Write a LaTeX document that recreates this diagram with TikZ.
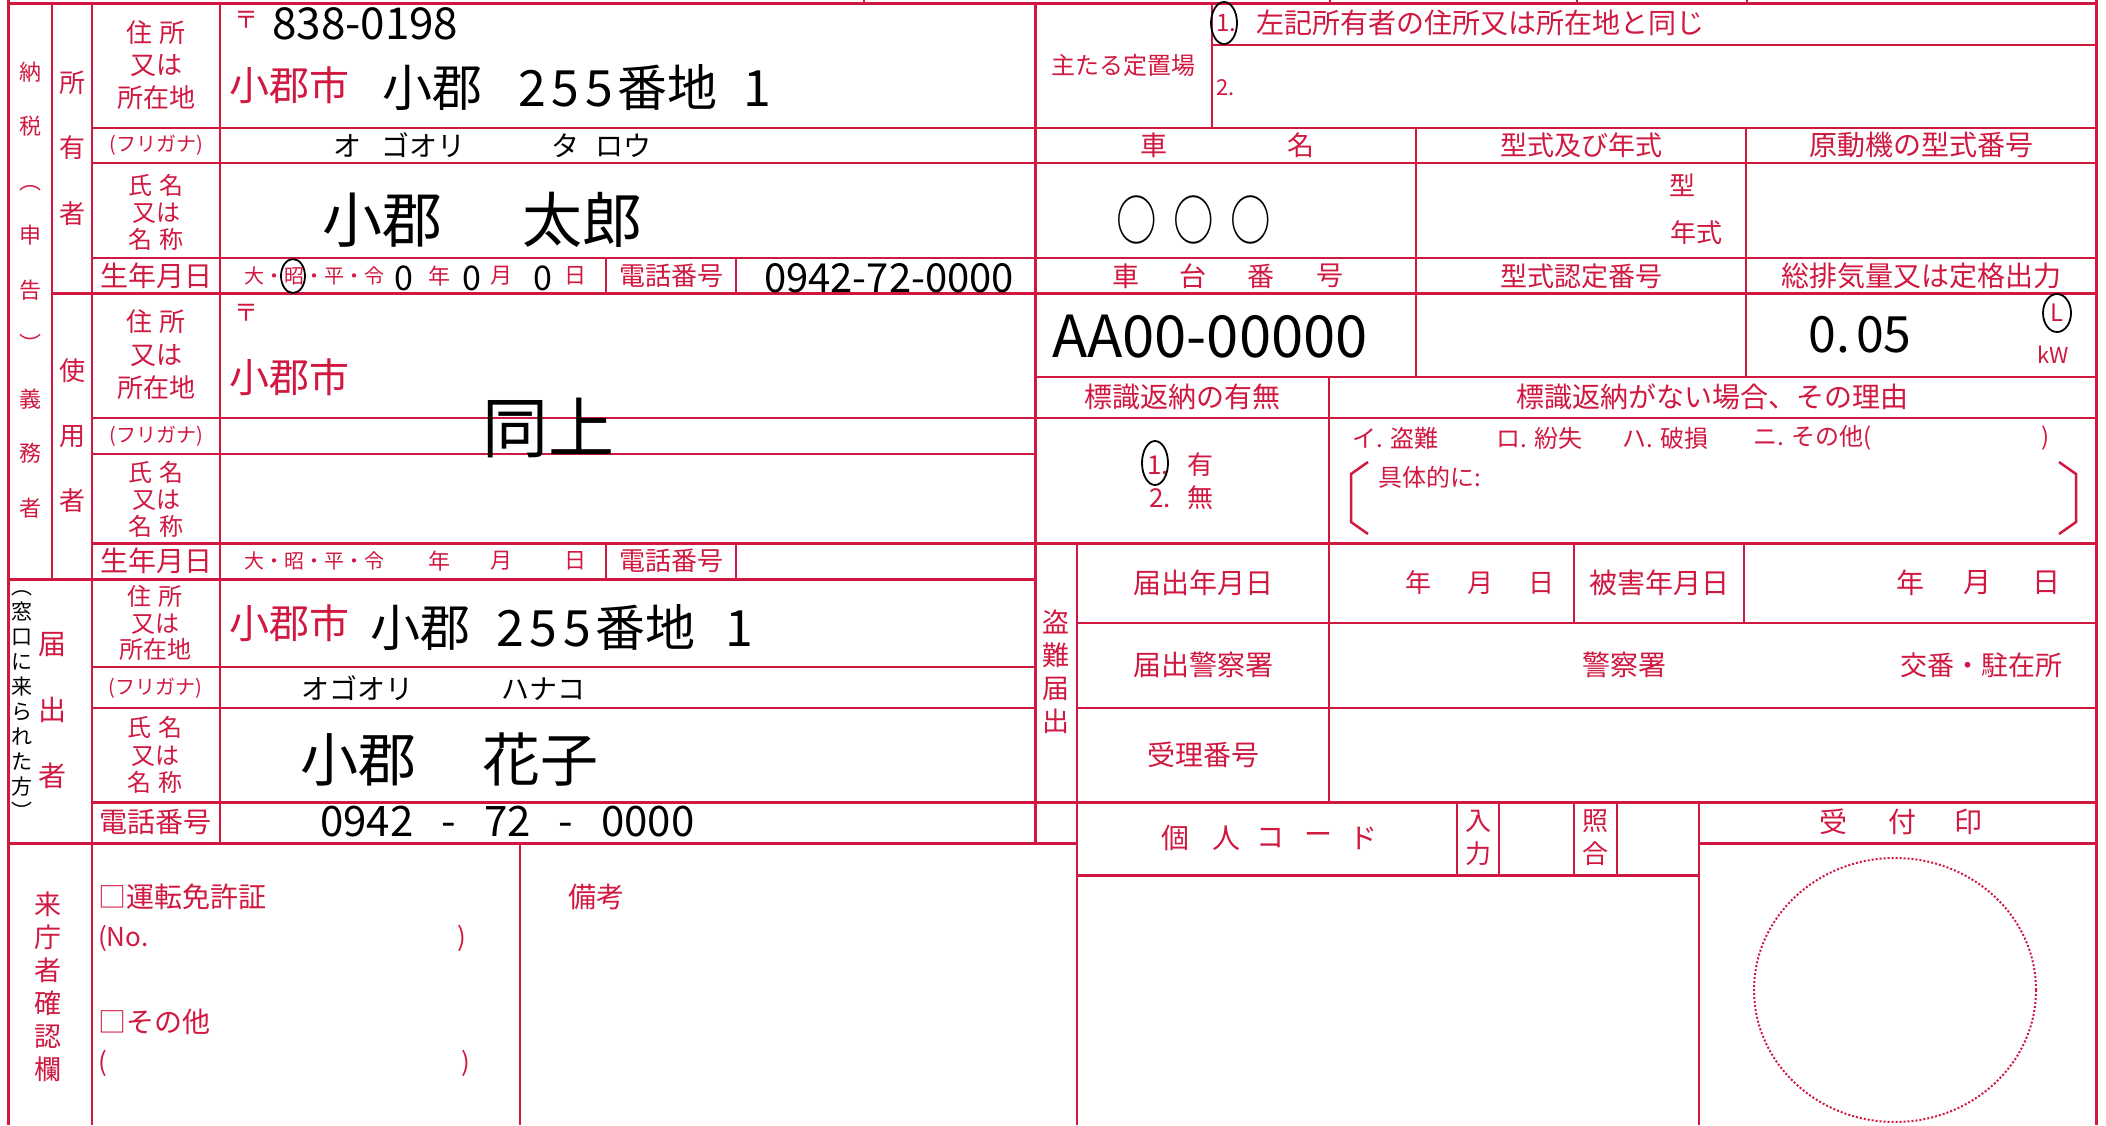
\documentclass[tikz,border=0pt]{standalone}
\usepackage{fontspec}
\newfontfamily\jp{Noto Sans CJK JP}
\definecolor{fr}{RGB}{208,24,64}
\newcommand\fsz[2]{\fontsize{#1}{#2}\selectfont}
\begin{document}
\begin{tikzpicture}[x=1pt,y=-1pt,
 ln/.style={draw=fr,line width=2pt},
 tk/.style={draw=fr,line width=3pt},
 rt/.style={text=fr,inner sep=0pt,font=\jp\fsz{#1}{#1}},
 rv/.style args={#1/#2}{text=fr,inner sep=0pt,align=center,font=\jp\fsz{#1}{#2}},
 hw/.style={text=black,inner sep=0pt,font=\jp\fsz{#1}{#1}},
 hv/.style args={#1/#2}{text=black,inner sep=0pt,align=center,font=\jp\fsz{#1}{#2}},
 mk/.style={draw=black,line width=1.8pt}]
\useasboundingbox (0,0) rectangle (2106,1125);
\fill[white] (0,0) rectangle (2106,1125);
% ---------- frame lines
\draw[tk] (8,0) -- (8,1125);
\draw[tk] (2096,0) -- (2096,1125);
\draw[tk] (8,3) -- (2096,3);
\foreach \x in {864,1330,1577,1747} \draw[ln] (\x,0) -- (\x,4);
% verticals
\draw[ln] (52,3) -- (52,579);
\draw[ln] (92,3) -- (92,1125);
\draw[ln] (220,3) -- (220,843);
\draw[ln] (606,258) -- (606,293);
\draw[ln] (606,543) -- (606,579);
\draw[ln] (736,258) -- (736,293);
\draw[ln] (736,543) -- (736,579);
\draw[tk] (1035,3) -- (1035,843);
\draw[ln] (1212,3) -- (1212,128);
\draw[ln] (1416,128) -- (1416,377);
\draw[ln] (1746,128) -- (1746,377);
\draw[ln] (1329,377) -- (1329,802);
\draw[ln] (1077,543) -- (1077,1125);
\draw[ln] (1574,543) -- (1574,623);
\draw[ln] (1744,543) -- (1744,623);
\draw[ln] (1457,802) -- (1457,875);
\draw[ln] (1499,802) -- (1499,875);
\draw[ln] (1574,802) -- (1574,875);
\draw[ln] (1617,802) -- (1617,875);
\draw[ln] (1699,802) -- (1699,1125);
\draw[ln] (520,843) -- (520,1125);
% horizontals
\draw[ln] (1212,45) -- (2096,45);
\draw[ln] (92,128) -- (2096,128);
\draw[ln] (92,163) -- (2096,163);
\draw[ln] (92,258) -- (2096,258);
\draw[tk] (52,293) -- (2096,293);
\draw[ln] (1035,377) -- (2096,377);
\draw[ln] (92,418) -- (2096,418);
\draw[ln] (92,454) -- (1035,454);
\draw[tk] (92,543) -- (2096,543);
\draw[tk] (8,579) -- (1035,579);
\draw[ln] (1077,623) -- (2096,623);
\draw[ln] (92,667) -- (1035,667);
\draw[ln] (92,708) -- (1035,708);
\draw[ln] (1077,708) -- (2096,708);
\draw[tk] (92,802) -- (2096,802);
\draw[tk] (8,843) -- (1077,843);
\draw[tk] (1699,843) -- (2096,843);
\draw[tk] (1077,875) -- (1699,875);
% ---------- left vertical headers
\node[rv=22/54.5] (nozei) at (30,290) {納\\税\\︵\\申\\告\\︶\\義\\務\\者};
\node[rv=26/65.5] (shoyu) at (72,148) {所\\有\\者};
\node[rv=26/65] (shiyo) at (72,436) {使\\用\\者};
\node[rv=28/66] (todoke) at (52,711) {届\\出\\者};
\node[hv=21/25] (madoguchi) at (22,705) {︵\\窓\\口\\に\\来\\ら\\れ\\た\\方\\︶};
\node[rv=27/33] (raicho) at (48,987) {来\\庁\\者\\確\\認\\欄};
% ---------- owner
\node[rv=26/32.5] (o-addr-l) at (156,65) {住\hspace{8pt}所\\又は\\所在地};
\node[rt=24,anchor=west] (o-zip) at (234,20) {〒};
\node[hw=44,anchor=west] (o-zipv) at (272,24) {838-0198};
\node[rt=40,anchor=west] (o-city) at (229,85) {小郡市};
\node[hw=50,anchor=west] (o-addr) at (382,88) {小郡\hspace{36pt}2\hspace{6pt}5\hspace{6pt}5\hspace{4pt}番地\hspace{26pt}1};
\node[rt=20] (o-kana-l) at (156,145) {(フリガナ)};
\node[hw=28,anchor=west] (o-kana) at (333,145) {オ\hspace{20pt}ゴオリ\hspace{86pt}タ\hspace{16pt}ロウ};
\node[rv=24/27] (o-name-l) at (156,212) {氏\hspace{8pt}名\\又は\\名\hspace{8pt}称};
\node[hw=60,anchor=west] (o-name) at (322,220) {小郡\hspace{80pt}太郎};
\node[rt=28] (o-birth-l) at (156,276) {生年月日};
\node[rt=20,anchor=west] (o-era) at (244,276) {大・昭・平・令};
\draw[mk] (293,276) ellipse [x radius=12, y radius=17];
\node[hw=34] (o-y) at (404,278) {0};
\node[rt=22] (o-yl) at (439,276) {年};
\node[hw=34] (o-m) at (472,278) {0};
\node[rt=22] (o-ml) at (501,276) {月};
\node[hw=34] (o-d) at (543,278) {0};
\node[rt=22] (o-dl) at (575,276) {日};
\node[rt=26] (o-tel-l) at (671,276) {電話番号};
\node[hw=40] (o-tel) at (889,278) {0942-72-0000};
% ---------- user
\node[rv=26/33] (u-addr-l) at (156,355) {住\hspace{8pt}所\\又は\\所在地};
\node[rt=24,anchor=west] (u-zip) at (234,313) {〒};
\node[rt=40,anchor=west] (u-city) at (229,377) {小郡市};
\node[hw=66] (u-same) at (548,428) {同上};
\node[rt=20] (u-kana-l) at (156,436) {(フリガナ)};
\node[rv=24/27] (u-name-l) at (156,499) {氏\hspace{8pt}名\\又は\\名\hspace{8pt}称};
\node[rt=28] (u-birth-l) at (156,561) {生年月日};
\node[rt=20,anchor=west] (u-era) at (244,561) {大・昭・平・令};
\node[rt=22] (u-yl) at (439,561) {年};
\node[rt=22] (u-ml) at (501,561) {月};
\node[rt=22] (u-dl) at (575,561) {日};
\node[rt=26] (u-tel-l) at (671,561) {電話番号};
% ---------- applicant
\node[rv=24/26.5] (a-addr-l) at (155,623) {住\hspace{8pt}所\\又は\\所在地};
\node[rt=40,anchor=west] (a-city) at (229,623) {小郡市};
\node[hw=50,anchor=west] (a-addr) at (370,628) {小郡\hspace{26pt}2\hspace{6pt}5\hspace{6pt}5\hspace{4pt}番地\hspace{30pt}1};
\node[rt=20] (a-kana-l) at (155,688) {(フリガナ)};
\node[hw=28,anchor=west] (a-kana) at (301,688) {オゴオリ\hspace{88pt}ハナコ};
\node[rv=24/27.5] (a-name-l) at (155,755) {氏\hspace{8pt}名\\又は\\名\hspace{8pt}称};
\node[hw=58,anchor=west] (a-name) at (300,760) {小郡\hspace{66pt}花子};
\node[rt=28] (a-tel-l) at (155,822) {電話番号};
\node[hw=42,anchor=west] (a-tel) at (320,822) {0942\hspace{28pt}-\hspace{28pt}72\hspace{28pt}-\hspace{28pt}0000};
% ---------- visitor check
\node[rt=28,anchor=west] (v-lic) at (98,897) {□運転免許証};
\node[rt=26,anchor=west] (v-no) at (98,938) {(No.};
\node[rt=26] (v-no-r) at (462,938) {)};
\node[rt=28,anchor=west] (v-oth) at (98,1022) {□その他};
\node[rt=26,anchor=west] (v-op) at (98,1063) {(};
\node[rt=26] (v-cp) at (466,1063) {)};
\node[rt=28,anchor=west] (v-note) at (568,897) {備考};
% ---------- right: storage place
\node[rt=24] (p-l) at (1123,65) {主たる定置場};
\node[rt=24,anchor=west] (p-1) at (1216,23) {1.};
\draw[mk] (1224,23) ellipse [x radius=13, y radius=21];
\node[rt=28,anchor=west] (p-1t) at (1256,23) {左記所有者の住所又は所在地と同じ};
\node[rt=22,anchor=west] (p-2) at (1216,88) {2.};
% vehicle
\node[rt=27] (c-n1) at (1154,145) {車};
\node[rt=27] (c-n2) at (1301,145) {名};
\node[rt=27] (c-type) at (1581,145) {型式及び年式};
\node[rt=28] (c-eng) at (1921,145) {原動機の型式番号};
\node[hw=54] (c-name) at (1194,220) {\scalebox{0.75}[1]{○\hspace{22pt}○\hspace{22pt}○}};
\node[rt=26] (c-kata) at (1682,185) {型};
\node[rt=26] (c-nen) at (1696,233) {年式};
\node[rt=27] (c-d1) at (1126,276) {車};
\node[rt=27] (c-d2) at (1193,276) {台};
\node[rt=27] (c-d3) at (1261,276) {番};
\node[rt=27] (c-d4) at (1330,276) {号};
\node[rt=27] (c-cert) at (1581,276) {型式認定番号};
\node[rt=28] (c-disp) at (1921,276) {総排気量又は定格出力};
\node[hw=58,anchor=west] (c-chassis) at (1052,337) {AA00-00000};
\node[hw=50] (c-dispv) at (1860,335) {0.\hspace{6pt}05};
\node[rt=24] (c-L) at (2057,313) {L};
\draw[mk] (2057,313) ellipse [x radius=14, y radius=19];
\node[rt=22] (c-kw) at (2053,355) {kW};
% plate return
\node[rt=28] (r-l) at (1182,397) {標識返納の有無};
\node[rt=28] (r-why) at (1712,397) {標識返納がない場合、その理由};
\node[rt=26] (r-1) at (1158,465) {1.};
\node[rt=26] (r-1t) at (1200,465) {有};
\draw[mk] (1155,463) ellipse [x radius=13, y radius=22];
\node[rt=26] (r-2) at (1160,498) {2.};
\node[rt=26] (r-2t) at (1200,498) {無};
\node[rt=24,anchor=west] (r-i) at (1352,438) {イ. 盗難};
\node[rt=24,anchor=west] (r-ro) at (1496,438) {ロ. 紛失};
\node[rt=24,anchor=west] (r-ha) at (1622,438) {ハ. 破損};
\node[rt=24,anchor=west] (r-ni) at (1753,438) {ニ. その他(};
\node[rt=24] (r-nic) at (2046,438) {)};
\node[rt=24,anchor=west] (r-det) at (1378,477) {具体的に:};
\draw[ln,line width=2.5pt] (1368,462) -- (1351,474) -- (1351,522) -- (1368,534);
\draw[ln,line width=2.5pt] (2059,462) -- (2076,474) -- (2076,522) -- (2059,534);
% theft report
\node[rv=27/33] (t-l) at (1056,672) {盗\\難\\届\\出};
\node[rt=28] (t-date-l) at (1203,583) {届出年月日};
\node[rt=26] (t-y) at (1418,583) {年};
\node[rt=26] (t-m) at (1480,583) {月};
\node[rt=26] (t-d) at (1541,583) {日};
\node[rt=28] (t-dmg-l) at (1659,583) {被害年月日};
\node[rt=28] (t-y2) at (1910,583) {年};
\node[rt=28] (t-m2) at (1977,583) {月};
\node[rt=28] (t-d2) at (2046,583) {日};
\node[rt=28] (t-pol-l) at (1203,665) {届出警察署};
\node[rt=28] (t-pol) at (1624,665) {警察署};
\node[rt=27] (t-koban) at (1981,665) {交番・駐在所};
\node[rt=28] (t-no-l) at (1203,755) {受理番号};
% bottom right
\node[rt=28] (k-1) at (1175,838) {個};
\node[rt=28] (k-2) at (1226,838) {人};
\node[rt=28] (k-3) at (1270,838) {コ};
\node[rt=28] (k-4) at (1318,838) {ー};
\node[rt=28] (k-5) at (1363,838) {ド};
\node[rv=26/33] (k-in) at (1478,838) {入\\力};
\node[rv=26/33] (k-chk) at (1595,838) {照\\合};
\node[rt=28] (s-1) at (1833,822) {受};
\node[rt=28] (s-2) at (1902,822) {付};
\node[rt=28] (s-3) at (1968,822) {印};
\draw[fr,line width=2pt,dotted] (1895,990) ellipse [x radius=141, y radius=132];
\end{tikzpicture}
\end{document}
